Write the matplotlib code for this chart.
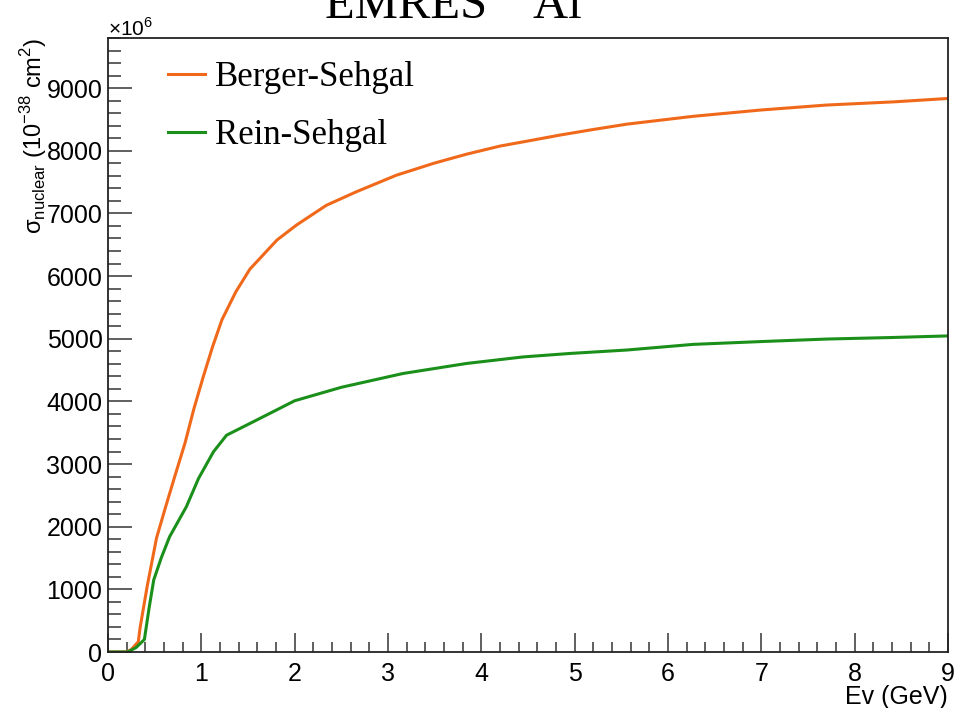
import matplotlib
matplotlib.use("Agg")
import matplotlib.pyplot as plt
from matplotlib.ticker import MultipleLocator

# energies (GeV) and cross sections (units of 1e6 * 1e-38 cm^2)
e_berger = [0.0, 0.2, 0.25, 0.325, 0.343, 0.42, 0.52, 0.62, 0.72, 0.825, 0.92, 1.02,
            1.12, 1.22, 1.37, 1.52, 1.81, 2.02, 2.34, 2.66, 3.09, 3.49, 3.84, 4.2,
            4.55, 4.84, 5.2, 5.56, 6.27, 6.99, 7.7, 8.41, 9.0]
xs_berger = [0, 0, 40, 165, 380, 1050, 1820, 2330, 2825, 3335, 3880, 4390,
             4870, 5300, 5750, 6110, 6575, 6815, 7130, 7345, 7610, 7800, 7945, 8075,
             8170, 8250, 8340, 8425, 8550, 8650, 8730, 8780, 8835]

e_rein = [0.0, 0.21, 0.3, 0.39, 0.44, 0.49, 0.57, 0.66, 0.84, 0.97, 1.13, 1.27,
          1.59, 2.0, 2.5, 3.16, 3.84, 4.45, 4.95, 5.56, 6.27, 7.0, 7.7, 8.41, 9.0]
xs_rein = [0, 0, 70, 200, 700, 1150, 1500, 1840, 2320, 2770, 3196, 3460,
           3700, 4010, 4225, 4445, 4605, 4710, 4765, 4820, 4910, 4955, 4995, 5020, 5045]

labels = ['Berger-Sehgal', 'Rein-Sehgal']
colors = ['#f0691a', '#1a901a']

fig = plt.figure(figsize=(9.57, 7.08), dpi=100)
ax = fig.add_axes([108/957, 1 - 652/708, 840/957, 614/708])

ax.plot(e_berger, xs_berger, color=colors[0], lw=2.2, label=labels[0])
ax.plot(e_rein, xs_rein, color=colors[1], lw=2.2, label=labels[1])

ax.set_xlim(0, 9)
ax.set_ylim(0, 9800)

ax.xaxis.set_major_locator(MultipleLocator(1))
ax.xaxis.set_minor_locator(MultipleLocator(0.2))
ax.yaxis.set_major_locator(MultipleLocator(1000))
ax.yaxis.set_minor_locator(MultipleLocator(200))

ax.tick_params(which='both', direction='in', top=False, right=False,
               color='#444444', width=1.2)
ax.tick_params(axis='x', which='major', length=13.7, labelsize=18, pad=7)
ax.tick_params(axis='x', which='minor', length=7.2)
ax.tick_params(axis='y', which='major', length=17, labelsize=18, pad=4)
ax.tick_params(axis='y', which='minor', length=9.5)
for lab in ax.get_xticklabels() + ax.get_yticklabels():
    lab.set_family('Liberation Sans')
for sp in ax.spines.values():
    sp.set_linewidth(1.3)
    sp.set_color('#222222')

ax.set_xlabel('Ev (GeV)', fontsize=18, family='Liberation Sans', loc='right')
ax.xaxis.set_label_coords(1.0, -0.053)
ax.set_ylabel(r'σ$_{\mathregular{nuclear}}$ (10$^{\mathregular{-38}}$ cm$^{\mathregular{2}}$)',
              fontsize=17, family='Liberation Sans', loc='top')
ax.yaxis.set_label_coords(-0.07, 1.0)

fig.text(108/957, 1 - 36/708, r'$\mathregular{\times}$10$^{\mathregular{6}}$', fontsize=15,
         family='Liberation Sans', ha='left', va='baseline')

# title, partly cut off at the top of the canvas
fig.text(453/957, 1 - 18/708, 'EMRES    Al', fontsize=35,
         family='Liberation Serif', ha='center', va='baseline')

leg = ax.legend(loc='upper left', bbox_to_anchor=(0.055, 0.985), frameon=False,
                prop={'family': 'Liberation Serif', 'size': 25},
                handlelength=1.05, handletextpad=0.3, labelspacing=0.72,
                borderaxespad=0)

fig.savefig('out.png', dpi=100)
